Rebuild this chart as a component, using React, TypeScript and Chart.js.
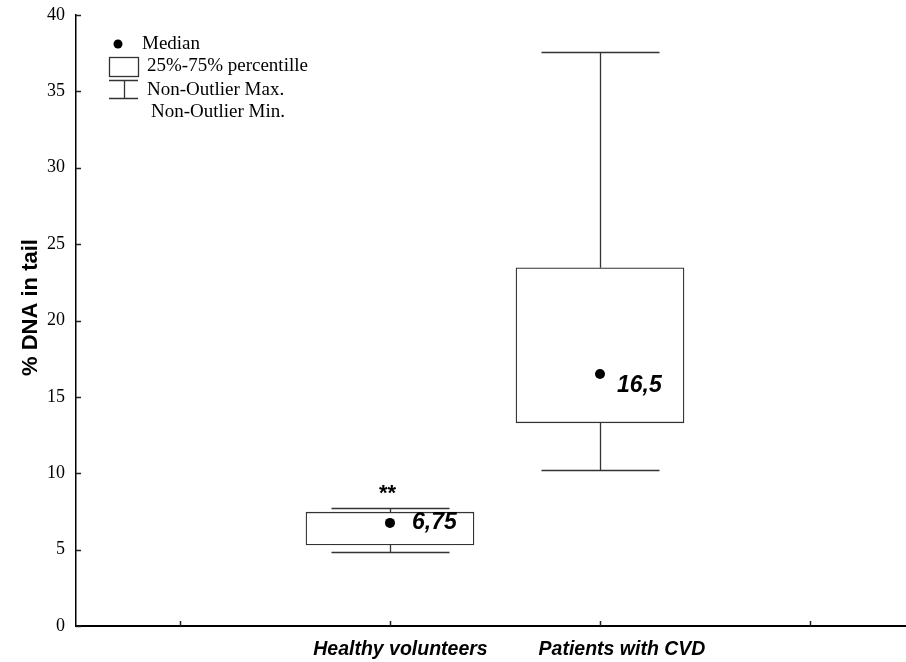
import React, { useEffect, useRef } from 'react';
import { Chart, registerables } from 'chart.js';

Chart.register(...registerables);

// ---- data ----
const categories = ['Healthy volunteers', 'Patients with CVD'];
const categoryPositions = [2, 3];
const q1 = [5.3, 13.3];
const q3 = [7.45, 23.45];
const medians = [6.75, 16.5];
const whiskerMin = [4.85, 10.2];
const whiskerMax = [7.75, 37.6];
const medianLabels = ['6,75', '16,5'];
const significance = ['**', ''];
const xTickPositions = [1, 2, 3, 4];
const yAxisTitle = '% DNA in tail';
const legendLabels = ['Median', '25%-75% percentille', 'Non-Outlier Max.', 'Non-Outlier Min.'];

// ---- styles ----
const LINE = '#333333';
const CAP_HALF = 59;
const catLabelOffsets = [10.5, 22];
const medianLabelOffsets = [
  { dx: 22, dy: 0 },
  { dx: 17, dy: 12 },
];

const extrasPlugin = {
  id: 'boxExtras',
  beforeDatasetsDraw(chart: any) {
    const { ctx, scales } = chart;
    const x = scales.x;
    const y = scales.y;
    ctx.save();
    ctx.strokeStyle = LINE;
    ctx.lineWidth = 1.3;
    categoryPositions.forEach((p, i) => {
      const cx = Math.round(x.getPixelForValue(p)) + 0.5;
      const yTop = y.getPixelForValue(q3[i]);
      const yBot = y.getPixelForValue(q1[i]);
      const yMax = Math.round(y.getPixelForValue(whiskerMax[i])) + 0.5;
      const yMin = Math.round(y.getPixelForValue(whiskerMin[i])) + 0.5;
      ctx.beginPath();
      ctx.moveTo(cx, yTop);
      ctx.lineTo(cx, yMax);
      ctx.moveTo(cx - CAP_HALF, yMax);
      ctx.lineTo(cx + CAP_HALF, yMax);
      ctx.moveTo(cx, yBot);
      ctx.lineTo(cx, yMin);
      ctx.moveTo(cx - CAP_HALF, yMin);
      ctx.lineTo(cx + CAP_HALF, yMin);
      ctx.stroke();
    });
    ctx.restore();
  },
  afterDraw(chart: any) {
    const { ctx, scales, chartArea } = chart;
    const x = scales.x;
    const y = scales.y;
    ctx.save();
    // inward tick marks
    ctx.strokeStyle = '#222';
    ctx.lineWidth = 1.5;
    ctx.beginPath();
    y.ticks.forEach((t: any) => {
      const py = Math.round(y.getPixelForValue(t.value)) + 0.5;
      ctx.moveTo(chartArea.left, py);
      ctx.lineTo(chartArea.left + 5, py);
    });
    xTickPositions.forEach((v) => {
      const px = Math.round(x.getPixelForValue(v)) + 0.5;
      ctx.moveTo(px, chartArea.bottom);
      ctx.lineTo(px, chartArea.bottom - 5);
    });
    ctx.stroke();

    // category labels
    ctx.fillStyle = '#000';
    ctx.font = 'bold italic 19.5px "Liberation Sans", Arial, sans-serif';
    ctx.textAlign = 'center';
    ctx.textBaseline = 'middle';
    categories.forEach((c, i) => {
      ctx.fillText(c, x.getPixelForValue(categoryPositions[i]) + catLabelOffsets[i], chartArea.bottom + 24);
    });

    // median value labels
    ctx.font = 'bold italic 23px "Liberation Sans", Arial, sans-serif';
    ctx.textAlign = 'left';
    medianLabels.forEach((l, i) => {
      ctx.fillText(
        l,
        x.getPixelForValue(categoryPositions[i]) + medianLabelOffsets[i].dx,
        y.getPixelForValue(medians[i]) + medianLabelOffsets[i].dy
      );
    });

    // significance marks
    ctx.font = 'bold 22px "Liberation Sans", Arial, sans-serif';
    ctx.textAlign = 'center';
    significance.forEach((s, i) => {
      if (!s) return;
      ctx.fillText(s, x.getPixelForValue(categoryPositions[i]) - 2.5, y.getPixelForValue(whiskerMax[i]) - 14);
    });

    // y axis title
    ctx.save();
    ctx.translate(31, (chartArea.top + chartArea.bottom) / 2 - 13);
    ctx.rotate(-Math.PI / 2);
    ctx.font = 'bold 22px "Liberation Sans", Arial, sans-serif';
    ctx.textAlign = 'center';
    ctx.textBaseline = 'middle';
    ctx.fillText(yAxisTitle, 0, 0);
    ctx.restore();

    // legend
    const lx = chartArea.left;
    const ly = chartArea.top;
    ctx.fillStyle = '#000';
    ctx.beginPath();
    ctx.arc(lx + 42, ly + 29, 4.5, 0, Math.PI * 2);
    ctx.fill();
    ctx.strokeStyle = LINE;
    ctx.lineWidth = 1.3;
    ctx.strokeRect(lx + 33.5, ly + 42.5, 29, 19);
    ctx.beginPath();
    ctx.moveTo(lx + 33, ly + 65.5);
    ctx.lineTo(lx + 62, ly + 65.5);
    ctx.moveTo(lx + 48.5, ly + 65.5);
    ctx.lineTo(lx + 48.5, ly + 83.5);
    ctx.moveTo(lx + 33, ly + 83.5);
    ctx.lineTo(lx + 62, ly + 83.5);
    ctx.stroke();
    ctx.font = '19px "Liberation Serif", "Times New Roman", serif';
    ctx.textAlign = 'left';
    ctx.textBaseline = 'middle';
    ctx.fillText(legendLabels[0], lx + 66, ly + 29);
    ctx.fillText(legendLabels[1], lx + 71, ly + 51);
    ctx.fillText(legendLabels[2], lx + 71, ly + 75);
    ctx.fillText(legendLabels[3], lx + 75, ly + 97);
    ctx.restore();
  },
};

export default function App() {
  const ref = useRef<HTMLCanvasElement | null>(null);
  useEffect(() => {
    document.body.style.margin = '0';
    const canvas = ref.current;
    if (!canvas) return;
    const chart = new Chart(canvas, {
      type: 'bar',
      data: {
        datasets: [
          {
            type: 'scatter',
            order: 0,
            data: categoryPositions.map((p, i) => ({ x: p, y: medians[i] })),
            pointRadius: 5,
            pointBackgroundColor: '#000',
            pointBorderWidth: 0,
            backgroundColor: '#000',
          } as any,
          {
            type: 'bar',
            order: 1,
            data: categoryPositions.map((p, i) => ({ x: p, y: [q1[i], q3[i]] })) as any,
            backgroundColor: '#ffffff',
            borderColor: LINE,
            borderWidth: 1.3,
            borderSkipped: false,
            barThickness: 168,
          } as any,
        ],
      },
      options: {
        responsive: false,
        animation: false,
        layout: { autoPadding: false, padding: { top: 15, right: 0, left: 0, bottom: 0 } },
        plugins: {
          legend: { display: false },
          tooltip: { enabled: false },
        },
        scales: {
          x: {
            type: 'linear',
            min: 0.505,
            max: 4.457,
            offset: false,
            grid: { display: false, drawTicks: false },
            border: { display: true, color: '#000', width: 2 },
            ticks: { display: false },
            afterFit(s: any) {
              s.height = 36;
              s.paddingLeft = 0;
              s.paddingRight = 0;
            },
          },
          y: {
            type: 'linear',
            min: 0,
            max: 40,
            grid: { display: false, drawTicks: false },
            border: { display: true, color: '#000', width: 1.5 },
            ticks: {
              stepSize: 5,
              padding: 11,
              color: '#000',
              font: { family: '"Liberation Serif", "Times New Roman", serif', size: 18 },
            },
            afterFit(s: any) {
              s.width = 76;
              s.paddingTop = 0;
              s.paddingBottom = 0;
            },
          },
        },
      } as any,
      plugins: [extrasPlugin],
    });
    return () => chart.destroy();
  }, []);
  return (
    <div style={{ width: 906, height: 662 }}>
      <canvas ref={ref} width={906} height={662} style={{ display: 'block' }} />
    </div>
  );
}
